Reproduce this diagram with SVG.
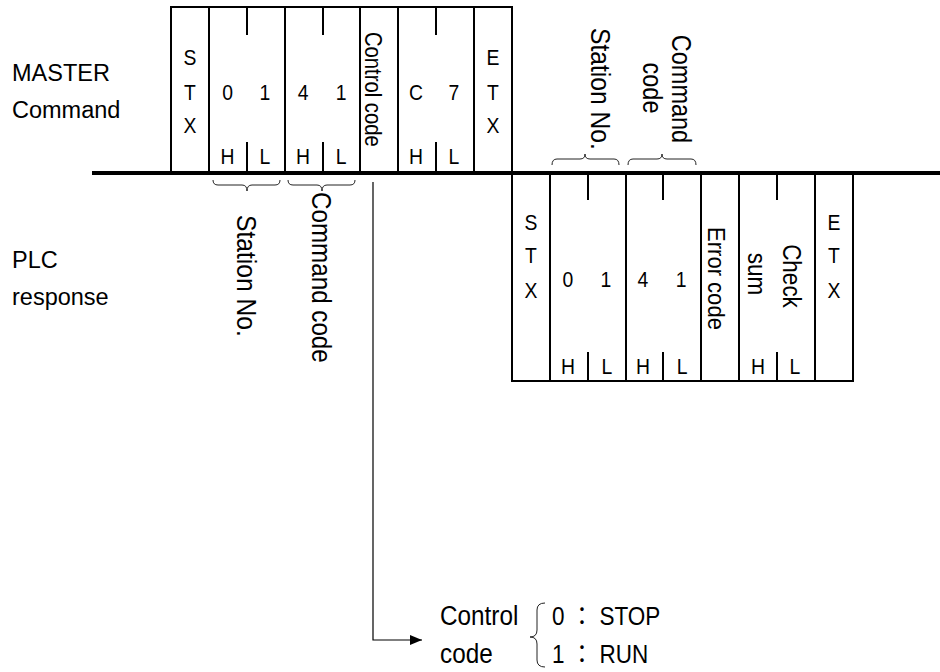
<svg xmlns="http://www.w3.org/2000/svg" width="940" height="672" viewBox="0 0 940 672">
<style>
.f{fill:none;stroke:#000;stroke-width:2}
.br{fill:none;stroke:#222;stroke-width:1}
.cn{fill:none;stroke:#000;stroke-width:1.2}
text{font-family:"Liberation Sans",Arial,"Noto Sans CJK JP",sans-serif;fill:#000}
.b{font-size:21.5px;text-anchor:middle}
.lab{font-size:23.5px}
.m{text-anchor:middle}
</style>
<defs>
<marker id="arr" viewBox="0 0 12 10" refX="12" refY="5" markerWidth="12" markerHeight="10" markerUnits="userSpaceOnUse" orient="auto"><path d="M0,0L12,5L0,10z" fill="#000"/></marker>
</defs>
<rect width="940" height="672" fill="#fff"/>

<g id="side-labels" class="lab">
<text x="12" y="81">MASTER</text>
<text x="12" y="118">Command</text>
<text x="12" y="268">PLC</text>
<text x="12" y="305">response</text>
</g>

<g id="master-command">
<path class="f" d="M171,173V7H512V173M209,7V173M285,7V173M360,7V173M398,7V173M474,7V173M247,7V35M247,142V173M323,7V35M323,142V173M436,7V35M436,142V173"/>
<g transform="scale(0.9,1)" class="b">
<text x="211.1" y="65">S</text><text x="211.1" y="100">T</text><text x="211.1" y="133">X</text>
<text x="252.8" y="100">0</text><text x="294.4" y="100">1</text>
<text x="336.7" y="100">4</text><text x="378.9" y="100">1</text>
<text x="462.2" y="100">C</text><text x="504.4" y="100">7</text>
<text x="252.8" y="164">H</text><text x="294.4" y="164">L</text>
<text x="336.7" y="164">H</text><text x="378.9" y="164">L</text>
<text x="462.2" y="164">H</text><text x="504.4" y="164">L</text>
<text x="547.8" y="65">E</text><text x="547.8" y="100">T</text><text x="547.8" y="133">X</text>
</g>
<text transform="translate(365,32) rotate(90) scale(0.88,1)" font-size="23">Control code</text>
</g>

<g id="plc-response">
<path class="f" d="M512,173V381H853V173M550,173V381M626,173V381M701,173V381M739,173V381M815,173V381M588,173V200M588,352V381M663,173V200M663,352V381M777,173V200M777,352V381"/>
<g transform="scale(0.9,1)" class="b">
<text x="590" y="230">S</text><text x="590" y="263">T</text><text x="590" y="298">X</text>
<text x="631.1" y="287">0</text><text x="673.3" y="287">1</text>
<text x="714.4" y="287">4</text><text x="756.7" y="287">1</text>
<text x="631.1" y="374">H</text><text x="674.4" y="374">L</text>
<text x="714.4" y="374">H</text><text x="757.8" y="374">L</text>
<text x="842.2" y="374">H</text><text x="883.3" y="374">L</text>
<text x="926.7" y="230">E</text><text x="926.7" y="263">T</text><text x="926.7" y="298">X</text>
</g>
<text transform="translate(708,227) rotate(90) scale(0.9,1)" font-size="24.5">Error code</text>
<text class="m" transform="translate(783,276) rotate(90) scale(0.9,1)" font-size="25">Check</text>
<text class="m" transform="translate(748,274) rotate(90) scale(0.9,1)" font-size="25">sum</text>
</g>

<g id="main-line">
<line x1="92" y1="173" x2="940" y2="173" stroke="#000" stroke-width="4"/>
</g>

<g id="braces">
<path class="br" d="M213,180Q213,185 218,185L242,185Q247,185 247,191Q247,185 252,185L275,185Q280,185 280,180"/>
<path class="br" d="M288,180Q288,185 293,185L317,185Q322,185 322,191Q322,185 327,185L350,185Q355,185 355,180"/>
<path class="br" d="M552,165Q552,159 557,159L580,159Q585,159 585,154Q585,159 590,159L614,159Q619,159 619,165"/>
<path class="br" d="M628,165Q628,159 633,159L657,159Q662,159 662,154Q662,159 667,159L691,159Q696,159 696,165"/>
<path class="br" d="M545,603Q537,603 537,610L537,630Q537,637 530,637Q537,637 537,644L537,660Q537,667 545,667"/>
</g>

<g id="field-labels">
<text transform="translate(237,215) rotate(90) scale(0.88,1)" font-size="28">Station No.</text>
<text transform="translate(312,192) rotate(90) scale(0.88,1)" font-size="27.5">Command code</text>
<text transform="translate(591,28) rotate(90) scale(0.88,1)" font-size="28">Station No.</text>
<text class="m" transform="translate(672,89) rotate(90) scale(0.87,1)" font-size="27">Command</text>
<text class="m" transform="translate(643,88) rotate(90) scale(0.87,1)" font-size="27">code</text>
</g>

<g id="connectors">
<path class="cn" d="M373,182V640H422" marker-end="url(#arr)"/>
</g>

<g id="control-code-legend" transform="scale(0.9,1)">
<text x="488.9" y="625" font-size="27">Control</text>
<text x="488.9" y="663" font-size="27">code</text>
<text x="613.3" y="625" font-size="25">0 ： STOP</text>
<text x="613.3" y="663" font-size="25">1 ： RUN</text>
</g>
</svg>
